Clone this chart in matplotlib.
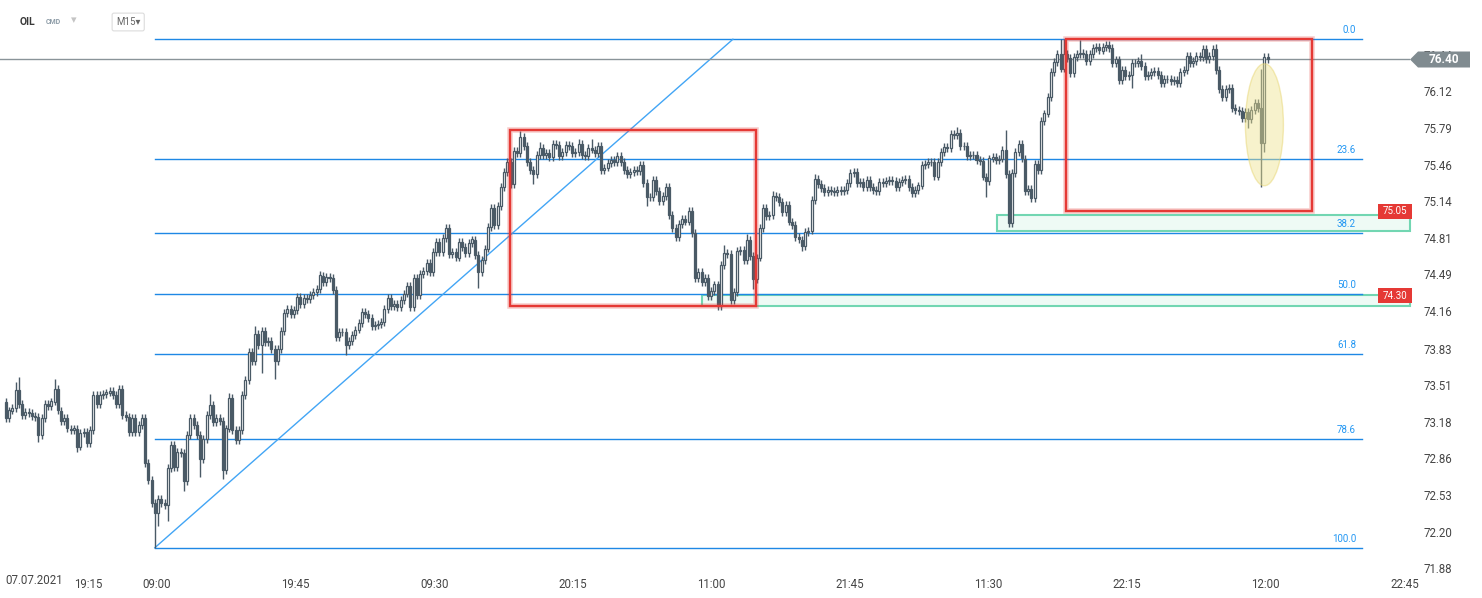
import numpy as np
import matplotlib.pyplot as plt
from matplotlib.patches import Rectangle, Ellipse, Polygon

plt.rcParams['font.family'] = ['Roboto', 'DejaVu Sans']

# OIL CMD, M15 candles - closes, open = previous close
first_open = 73.36
closes = [
    73.21, 73.28, 73.30, 73.46, 73.34, 73.24, 73.27, 73.26, 73.23, 73.22,
    73.06, 73.21, 73.34, 73.32, 73.36, 73.47, 73.28, 73.19, 73.21, 73.12,
    73.11, 73.12, 72.96, 73.08, 73.09, 72.99, 73.11, 73.42, 73.34, 73.42,
    73.43, 73.44, 73.45, 73.42, 73.34, 73.47, 73.24, 73.22, 73.09, 73.21,
    73.09, 73.15, 73.21, 72.81, 72.66, 72.46, 72.37, 72.49, 72.46, 72.44,
    72.77, 72.97, 72.78, 72.91, 72.90, 72.65, 73.06, 73.21, 73.15, 73.06,
    72.85, 73.03, 73.24, 73.33, 73.18, 73.21, 73.19, 72.75, 73.12, 73.39,
    73.11, 73.02, 73.11, 73.42, 73.55,
    73.80, 73.72, 73.96, 73.86, 73.99, 73.89, 73.90, 73.83, 73.72, 73.83,
    73.99, 74.15, 74.18, 74.14, 74.17, 74.29, 74.23, 74.28, 74.27, 74.31,
    74.33, 74.36, 74.48, 74.42, 74.47, 74.46,
    74.35, 73.93, 73.98, 73.98, 73.86, 73.90, 73.95, 74.00, 74.06, 74.16,
    74.14, 74.10, 74.03, 74.04, 74.05, 74.07, 74.18, 74.28, 74.21, 74.23,
    74.20, 74.26, 74.32, 74.39, 74.20, 74.46, 74.31, 74.49, 74.52, 74.59,
    74.51, 74.69, 74.78, 74.69, 74.81, 74.90, 74.67, 74.69, 74.64, 74.78,
    74.73, 74.68, 74.77, 74.80, 74.66, 74.51, 74.62, 74.72, 74.91, 75.08,
    74.93, 75.10, 75.27, 75.40, 75.49, 75.29, 75.59, 75.57, 75.71, 75.63,
    75.49, 75.42, 75.38, 75.55, 75.61, 75.55, 75.57, 75.53, 75.65, 75.64,
    75.54, 75.58, 75.64, 75.63, 75.57, 75.58, 75.65, 75.55, 75.54, 75.61,
    75.60, 75.57, 75.63, 75.42, 75.44, 75.48, 75.51, 75.49, 75.54, 75.49,
    75.42, 75.38, 75.40, 75.42, 75.41, 75.46, 75.30, 75.18,
    75.18, 75.33, 75.23, 75.14, 75.19, 75.27, 75.02, 74.90, 74.82, 74.94,
    74.98, 74.96, 75.05, 74.86, 74.46, 74.51, 74.42, 74.46, 74.30, 74.34,
    74.40, 74.21, 74.57, 74.68, 74.67, 74.26, 74.33, 74.70, 74.71, 74.62,
    74.80, 74.65, 74.45, 74.64, 74.90, 75.08, 75.01, 75.02, 75.19, 75.18,
    75.13, 75.04, 75.11, 74.96, 74.93, 74.82, 74.80, 74.74, 74.87, 74.88,
    75.15, 75.34, 75.29, 75.26, 75.22, 75.24, 75.23, 75.22, 75.24, 75.23,
    75.24, 75.30, 75.39, 75.40, 75.30, 75.31, 75.27, 75.33, 75.27, 75.24,
    75.23, 75.31, 75.30, 75.32, 75.33, 75.32, 75.27, 75.31, 75.33, 75.34,
    75.27, 75.21, 75.24, 75.28, 75.46, 75.47, 75.49, 75.49, 75.36, 75.49,
    75.58, 75.62, 75.61, 75.74, 75.73, 75.75, 75.63, 75.63, 75.54, 75.55,
    75.55, 75.51, 75.50, 75.36, 75.32, 75.52, 75.53,
    75.51, 75.52, 75.60, 75.38, 74.95, 75.39, 75.58, 75.65, 75.52, 75.23,
    75.25, 75.17, 75.47, 75.42, 75.85, 75.92, 76.07, 76.29, 76.38, 76.45,
    76.32, 76.45, 76.41, 76.28, 76.42, 76.45, 76.46, 76.45, 76.39, 76.45,
    76.50, 76.51, 76.48, 76.51, 76.53, 76.50, 76.37, 76.40, 76.22, 76.31,
    76.25, 76.26, 76.37, 76.37, 76.39, 76.34, 76.25, 76.26, 76.29, 76.30,
    76.26, 76.19, 76.23, 76.23, 76.21, 76.22, 76.19, 76.29, 76.31, 76.43,
    76.37, 76.39, 76.43, 76.42, 76.49, 76.40, 76.43, 76.49, 76.31, 76.14,
    76.07, 76.14, 76.15, 75.97, 75.95, 75.94, 75.88, 75.93, 75.87, 75.95,
    76.01, 75.97, 75.66, 76.42, 76.40,
]
# wicks that stick out further than the usual short ones
extra_highs = {3: 73.53, 4: 73.58, 15: 73.56, 63: 73.43, 69: 73.44, 74: 73.58,
               77: 74.03, 97: 74.52, 136: 74.93, 159: 75.76, 165: 75.67,
               169: 75.68, 177: 75.69, 181: 75.69, 222: 74.75, 229: 74.85,
               237: 75.23, 250: 75.38, 261: 75.41, 294: 75.80, 305: 75.57,
               309: 75.77, 326: 76.58, 327: 76.58, 332: 76.57, 340: 76.55,
               351: 76.45, 370: 76.52, 374: 76.54, 388: 76.32, 389: 76.46}
extra_lows = {10: 73.00, 22: 72.91, 46: 72.06, 47: 72.25, 50: 72.30, 55: 72.56,
              60: 72.69, 67: 72.67, 79: 73.61, 83: 73.56, 105: 73.77,
              146: 74.37, 163: 75.29, 198: 75.10, 220: 74.20, 224: 74.24,
              225: 74.25, 231: 74.36, 232: 74.43, 246: 74.70, 303: 75.18,
              310: 74.92, 317: 75.14, 348: 76.15, 384: 75.79, 388: 75.27,
              389: 75.58}

fib_levels = [0.0, 23.6, 38.2, 50.0, 61.8, 78.6, 100.0]
ytick_values = [76.44, 76.12, 75.79, 75.46, 75.14, 74.81, 74.49, 74.16,
                73.83, 73.51, 73.18, 72.86, 72.53, 72.20, 71.88]
xtick_labels = ['19:15', '09:00', '19:45', '09:30', '20:15', '11:00',
                '21:45', '11:30', '22:15', '12:00', '22:45']
zone_prices = [75.05, 74.30]

CANDLE = '#4a5a66'
BLUE = '#1e88e5'
RED = '#e53935'

o = np.array([first_open] + closes[:-1])
c = np.array(closes)
highs = np.maximum(o, c) + 0.035
lows = np.minimum(o, c) - 0.035
for i, v in extra_highs.items():
    highs[i] = max(highs[i], v)
for i, v in extra_lows.items():
    lows[i] = min(lows[i], v)
x = np.arange(len(closes))

px = 3.235      # pixels per bar
ppu = 112.5     # pixels per price unit

fig = plt.figure(figsize=(14.82, 5.98), dpi=100)
ax = fig.add_axes([0, 1 - 572 / 598, 1410 / 1482, 572 / 598])
ax.set_xlim(-6 / px, (1410 - 6) / px)
ax.set_ylim(76.12 - 481 / ppu, 76.12 + 91 / ppu)
xr = ax.get_xlim()[1]
for s in ax.spines.values():
    s.set_visible(False)

# support zones
ax.add_patch(Rectangle((306.3, 74.88), xr - 306.3, 0.14, fc='#eefaf5',
                       ec='#72d6b2', lw=1.5, zorder=1, clip_on=False))
ax.add_patch(Rectangle((215.1, 74.21), xr - 215.1, 0.10, fc='#eefaf5',
                       ec='#72d6b2', lw=1.5, zorder=1, clip_on=False))

# fibonacci retracement
lo_i = int(np.argmin(lows))
fib_hi = highs.max()
fib_lo = lows.min()
for lev in fib_levels:
    p = fib_hi - lev / 100 * (fib_hi - fib_lo)
    ax.plot([lo_i, 419.2], [p, p], color=BLUE, lw=1, zorder=2)
    ax.text(417.3, p + 9 / ppu, f'{lev:.1f}', ha='right', va='center',
            fontsize=7, color='#2196f3', zorder=2)

# trend line
ax.plot([lo_i, 224.7], [fib_lo, fib_hi], color='#42a5f5', lw=1, zorder=2)

# last price line
ax.axhline(closes[-1], color='#8a9499', lw=1, zorder=2)

# candles
up = c >= o
ax.vlines(x, lows, highs, color=CANDLE, lw=1, zorder=3)
ax.bar(x, c - o, bottom=o, width=0.62, color=np.where(up, 'white', CANDLE),
       edgecolor=CANDLE, linewidth=0.9, zorder=4)

# red boxes
for bx, by, bw, bh in [(155.8, 74.21, 76.0, 1.56), (327.7, 75.05, 76.0, fib_hi - 75.05)]:
    ax.add_patch(Rectangle((bx, by), bw, bh, fill=False, ec=RED, lw=4,
                           alpha=0.25, zorder=5))
    ax.add_patch(Rectangle((bx, by), bw, bh, fill=False, ec=RED, lw=1.7,
                           zorder=5))

# highlight ellipse
ax.add_patch(Ellipse((389, 75.82), 38 / px, 122 / ppu, fc='#eee38e',
                     ec='#e6d36a', lw=1, alpha=0.45, zorder=6))

# axes ticks
ax.set_xticks([25.3] + [46.7 + 42.84 * k for k in range(10)])
ax.set_xticklabels(xtick_labels)
ax.yaxis.tick_right()
ax.set_yticks(ytick_values)
ax.set_yticklabels([f'{v:.2f}' for v in ytick_values])
ax.tick_params(axis='x', length=0, pad=4, labelsize=8.3, labelcolor='#454545')
ax.tick_params(axis='y', length=0, pad=10, labelsize=8.3, labelcolor='#454545')
ax.text(-1 / px, -9 / 572, '07.07.2021', transform=ax.get_xaxis_transform(),
        ha='left', va='center', fontsize=8.3, color='#454545')

# price tags on the right
bt = ax.get_yaxis_transform()
lp = closes[-1]
h = 8 / ppu
ax.add_patch(Polygon([(1.0, lp), (1418 / 1410, lp + h), (1470 / 1410, lp + h),
                      (1470 / 1410, lp - h), (1418 / 1410, lp - h)],
                     closed=True, transform=bt, fc='#808b90', ec='none',
                     clip_on=False, zorder=10))
ax.text(1444 / 1410, lp, f'{lp:.2f}', transform=bt, ha='center', va='center',
        fontsize=8.5, color='white', fontweight='bold', zorder=11, clip_on=False)
for zp in zone_prices:
    ax.add_patch(Rectangle((1378 / 1410, zp - 7.5 / ppu), 34 / 1410, 15 / ppu,
                           transform=bt, fc=RED, ec='none', clip_on=False,
                           zorder=10))
    ax.text(1395 / 1410, zp, f'{zp:.2f}', transform=bt, ha='center',
            va='center', fontsize=7, color='white', zorder=11, clip_on=False)

# header
fy = 1 - 22 / 598
fig.text(20 / 1482, fy, 'OIL', fontsize=7.5, fontweight='bold', color='#3a3a3a',
         va='center')
fig.text(46 / 1482, fy, 'CMD', fontsize=5, fontweight='bold', color='#8c9ba6',
         va='center')
fig.text(71 / 1482, fy + 0.003, '\u25be', fontsize=8, color='#c4c4c4', va='center')
fig.text(116 / 1482, fy, 'M15\u25be', fontsize=7, color='#666666', va='center',
         bbox=dict(boxstyle='round,pad=0.4,rounding_size=0.2', fc='white',
                   ec='#dcdcdc', lw=0.8))

fig.savefig('out.png', dpi=100)
